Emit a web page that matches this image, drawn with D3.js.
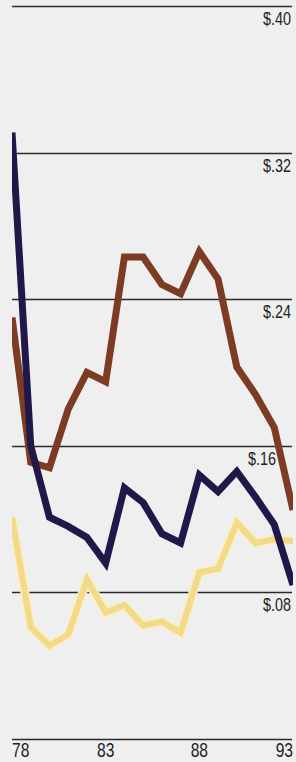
<!DOCTYPE html>
<html>
<head>
<meta charset="utf-8">
<script src="https://cdn.jsdelivr.net/npm/d3@7"></script>
<style>
  body { margin: 0; background: #efefef; }
  svg { display: block; }
  .grid line { stroke: #2a2a2a; stroke-width: 1.4; }
  .lbl { font-family: "Liberation Sans", Arial, sans-serif; fill: #222; }
</style>
</head>
<body>
<svg id="chart" width="296" height="762"></svg>
<script>
// years and series (dividend per share, $)
var years = [78, 79, 80, 81, 82, 83, 84, 85, 86, 87, 88, 89, 90, 91, 92, 93];
var navy   = [0.331, 0.160, 0.121, 0.116, 0.110, 0.096, 0.137, 0.129, 0.112, 0.107, 0.144, 0.135, 0.146, 0.132, 0.117, 0.084];
var brown  = [0.230, 0.151, 0.148, 0.180, 0.200, 0.195, 0.263, 0.263, 0.248, 0.243, 0.266, 0.251, 0.203, 0.188, 0.170, 0.125];
var yellow = [0.121, 0.061, 0.051, 0.057, 0.087, 0.069, 0.073, 0.062, 0.064, 0.058, 0.091, 0.093, 0.118, 0.107, 0.109, 0.108];
var yTicks = [0.08, 0.16, 0.24, 0.32, 0.40];
var yTickLabels = ["$.08", "$.16", "$.24", "$.32", "$.40"];
var xTicks = [78, 83, 88, 93];

var svg = d3.select("#chart");
var left = 12, right = 293, bottom = 739;

var x = d3.scaleLinear().domain([78, 93]).range([left, right]);
var y = d3.scaleLinear().domain([0, 0.40]).range([bottom, 6]);

// gridlines
var grid = svg.append("g").attr("class", "grid");
grid.selectAll("line.h")
    .data([0].concat(yTicks))
    .enter().append("line")
    .attr("x1", left)
    .attr("x2", right - 1)
    .attr("y1", function(d) { return Math.round(y(d)) + 0.5; })
    .attr("y2", function(d) { return Math.round(y(d)) + 0.5; });

// y labels, under each line; $.16 sits left of the brown line
var labelRight = function(d) { return d === 0.16 ? 276 : 291; };
svg.selectAll("text.ylab")
    .data(yTicks)
    .enter().append("text")
    .attr("class", "lbl ylab")
    .attr("text-anchor", "end")
    .attr("font-size", 18)
    .attr("transform", function(d) {
        return "translate(" + labelRight(d) + "," + (y(d) + 19) + ") scale(0.8,1)";
    })
    .text(function(d, i) { return yTickLabels[i]; });

// x labels
svg.selectAll("text.xlab")
    .data(xTicks)
    .enter().append("text")
    .attr("class", "lbl xlab")
    .attr("font-size", 20)
    .attr("text-anchor", function(d, i) {
        return i === 0 ? "start" : (i === xTicks.length - 1 ? "end" : "middle");
    })
    .attr("transform", function(d) {
        return "translate(" + x(d) + "," + (bottom + 18) + ") scale(0.78,1)";
    })
    .text(function(d) { return d; });

// clip lines to the plot
svg.append("clipPath").attr("id", "plotclip")
  .append("rect")
    .attr("x", left).attr("y", 0)
    .attr("width", right - left).attr("height", bottom);

var line = d3.line()
    .x(function(d, i) { return x(years[i]); })
    .y(function(d) { return y(d); });

var lines = svg.append("g").attr("clip-path", "url(#plotclip)");

// yellow has a paler halo
lines.append("path")
    .datum(yellow)
    .attr("d", line)
    .attr("fill", "none")
    .attr("stroke", "#fbefbd")
    .attr("stroke-width", 9)
    .attr("stroke-linejoin", "miter");
lines.append("path")
    .datum(yellow)
    .attr("d", line)
    .attr("fill", "none")
    .attr("stroke", "#f3d98a")
    .attr("stroke-width", 6)
    .attr("stroke-linejoin", "miter");

lines.append("path")
    .datum(brown)
    .attr("d", line)
    .attr("fill", "none")
    .attr("stroke", "#7e3b24")
    .attr("stroke-width", 7)
    .attr("stroke-linejoin", "miter");

lines.append("path")
    .datum(navy)
    .attr("d", line)
    .attr("fill", "none")
    .attr("stroke", "#21184a")
    .attr("stroke-width", 7)
    .attr("stroke-linejoin", "miter");
</script>
</body>
</html>
